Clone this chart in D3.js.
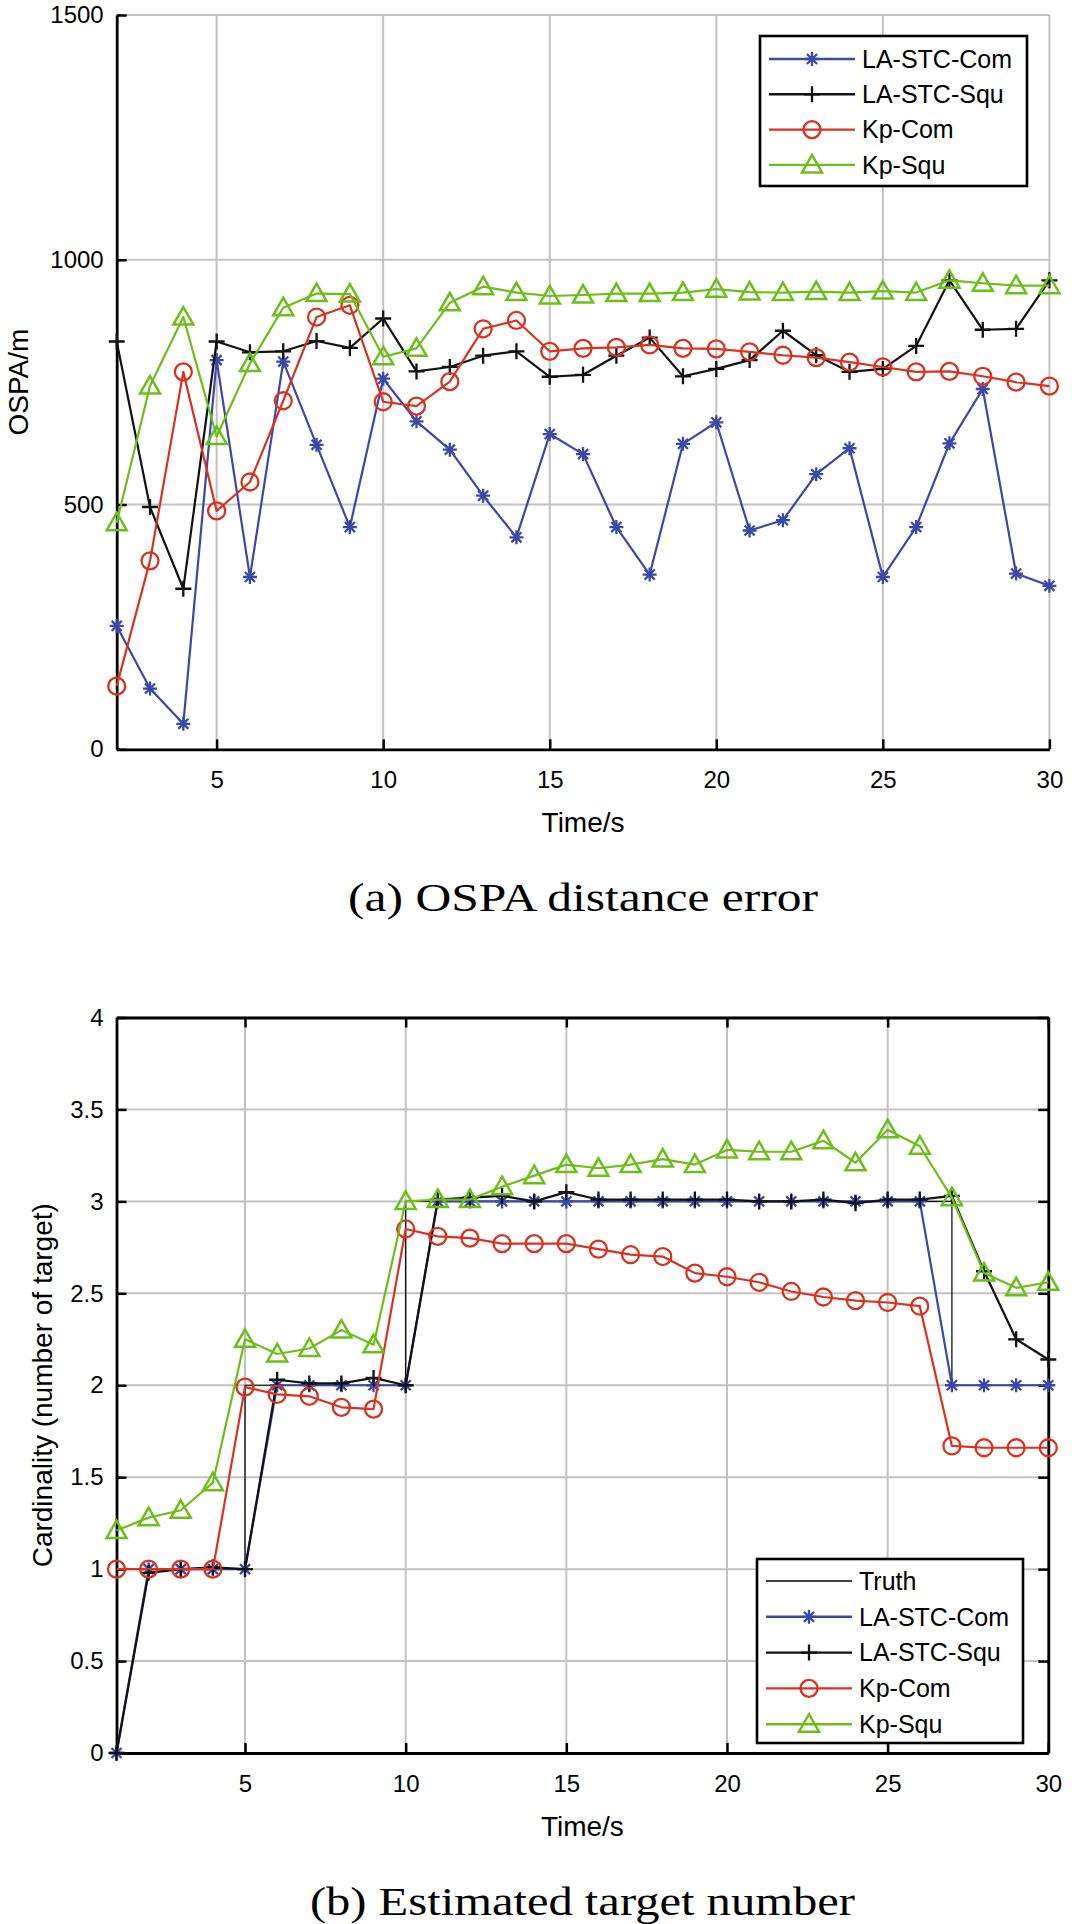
<!DOCTYPE html>
<html><head><meta charset="utf-8">
<script src="https://cdn.jsdelivr.net/npm/d3@7"></script>
<style>body{margin:0;background:#fff}svg{display:block}</style>
</head><body>
<svg id="c" width="1072" height="1924"></svg>
<script>
// ---------- Data: (a) OSPA distance error ----------
const timeA = [2,3,4,5,6,7,8,9,10,11,12,13,14,15,16,17,18,19,20,21,22,23,24,25,26,27,28,29,30];
const ospaLAComA = [252,124,52,795,352,792,622,454,757,670,612,518,433,644,603,454,357,624,668,447,468,562,615,352,454,625,736,359,334];
const ospaLASquA = [833,495,328,833,811,813,834,820,880,772,781,804,813,761,765,804,841,762,777,795,855,805,771,777,824,958,857,859,958];
const ospaKpComA = [129,385,771,487,546,712,883,907,710,701,751,859,876,813,819,821,826,819,818,812,805,800,791,781,771,772,762,750,742];
const ospaKpSquA = [463,742,883,639,788,902,931,930,802,819,912,945,933,926,928,931,931,933,940,934,933,935,933,936,933,958,952,947,947];
const ticksXA = [5,10,15,20,25,30];
const ticksYA = [0,500,1000,1500];

// ---------- Data: (b) Estimated target number ----------
const timeB = [1,2,3,4,5,6,7,8,9,10,11,12,13,14,15,16,17,18,19,20,21,22,23,24,25,26,27,28,29,30];
const truthB   = [1,1,1,1,2,2,2,2,2,3,3,3,3,3,3,3,3,3,3,3,3,3,3,3,3,3,2,2,2,2];
const cardLAComB = [0,1,1,1,1,2,2,2,2,2,3,3,3,3,3,3,3,3,3,3,3,3,3,3,3,3,2,2,2,2];
const cardLASquB = [0,0.98,1.0,1.01,1.0,2.03,2.01,2.01,2.04,2.0,3.01,3.02,3.03,3.0,3.05,3.01,3.01,3.01,3.01,3.01,3.0,3.0,3.01,2.99,3.01,3.01,3.03,2.62,2.25,2.14];
const cardKpComB = [1.0,1.0,1.0,1.0,1.99,1.95,1.94,1.88,1.87,2.85,2.81,2.80,2.77,2.77,2.77,2.74,2.71,2.70,2.61,2.59,2.56,2.51,2.48,2.46,2.45,2.43,1.67,1.66,1.66,1.66];
const cardKpSquB = [1.21,1.28,1.32,1.47,2.25,2.17,2.2,2.3,2.22,3.0,3.01,3.01,3.08,3.14,3.2,3.18,3.2,3.23,3.2,3.28,3.27,3.27,3.33,3.21,3.39,3.3,3.02,2.61,2.53,2.56];
const ticksXB = [5,10,15,20,25,30];
const ticksYB = [0,0.5,1,1.5,2,2.5,3,3.5,4];

const seriesNames = ["LA-STC-Com","LA-STC-Squ","Kp-Com","Kp-Squ"];
const seriesColors = ["#3c48a8","#111111","#d9321f","#6cbf19"];
const seriesMarkers = ["star","plus","circle","tri"];

// ---------- Drawing ----------
const svg = d3.select("#c");
const FONT = "'Liberation Sans', Arial, Helvetica, sans-serif";
const GRID = "#c2c2c2";

function markerPath(kind){
  if(kind==="star"){ const r=7, d=r*0.72;
    return `M${-r},0L${r},0M0,${-r}L0,${r}M${-d},${-d}L${d},${d}M${-d},${d}L${d},${-d}`; }
  if(kind==="plus"){ const r=8; return `M${-r},0L${r},0M0,${-r}L0,${r}`; }
  if(kind==="tri"){ return "M0,-10L10,7.5L-10,7.5Z"; }
  return null;
}
function drawMarker(g, kind, color, x, y){
  if(kind==="circle"){
    g.append("circle").attr("cx",x).attr("cy",y).attr("r",8.5)
      .attr("fill","none").attr("stroke",color).attr("stroke-width",2.3);
  } else {
    g.append("path").attr("d",markerPath(kind)).attr("transform",`translate(${x},${y})`)
      .attr("fill","none").attr("stroke",color).attr("stroke-width",kind==="tri"?2.5:2.3)
      .attr("stroke-linejoin","miter");
  }
}

function panel(cfg){
  const g = svg.append("g");
  const x = d3.scaleLinear().domain(cfg.xDomain).range([cfg.left,cfg.right]);
  const y = d3.scaleLinear().domain(cfg.yDomain).range([cfg.bottom,cfg.top]);

  // grid
  g.append("g").selectAll("line").data(cfg.ticksX).join("line")
    .attr("x1",d=>x(d)).attr("x2",d=>x(d)).attr("y1",cfg.top).attr("y2",cfg.bottom)
    .attr("stroke",GRID).attr("stroke-width",2);
  g.append("g").selectAll("line").data(cfg.ticksY.filter(d=>d!==cfg.yDomain[0])).join("line")
    .attr("x1",cfg.left).attr("x2",cfg.right).attr("y1",d=>y(d)).attr("y2",d=>y(d))
    .attr("stroke",GRID).attr("stroke-width",2);

  // axes via d3 (inward ticks)
  const ax = g.append("g").attr("transform",`translate(0,${cfg.bottom})`)
    .call(d3.axisBottom(x).tickValues(cfg.ticksX).tickSize(-10).tickPadding(22).tickSizeOuter(0).tickFormat(d3.format("")));
  const ay = g.append("g").attr("transform",`translate(${cfg.left},0)`)
    .call(d3.axisLeft(y).tickValues(cfg.ticksY).tickSize(-10).tickPadding(13).tickSizeOuter(0).tickFormat(d=>String(d)));
  [ax,ay].forEach(a=>{
    a.select(".domain").attr("stroke","#000").attr("stroke-width",2.8);
    a.selectAll(".tick line").attr("stroke","#000").attr("stroke-width",2.5);
    a.selectAll(".tick text").attr("fill","#000").attr("font-family",FONT).attr("font-size",24);
  });
  ax.selectAll(".tick text").attr("dy","0.71em");
  if(cfg.box){
    const at = g.append("g").attr("transform",`translate(0,${cfg.top})`)
      .call(d3.axisTop(x).tickValues(cfg.ticksX).tickSize(-10).tickSizeOuter(0).tickFormat(""));
    const ar = g.append("g").attr("transform",`translate(${cfg.right},0)`)
      .call(d3.axisRight(y).tickValues(cfg.ticksY).tickSize(-10).tickSizeOuter(0).tickFormat(""));
    [at,ar].forEach(a=>{
      a.select(".domain").attr("stroke","#000").attr("stroke-width",2.8);
      a.selectAll(".tick line").attr("stroke","#000").attr("stroke-width",2.5);
    });
  }

  // lines
  if(cfg.truth){
    g.append("path").datum(cfg.time.map((t,i)=>[t,cfg.truth[i]]))
      .attr("d",d3.line().x(d=>x(d[0])).y(d=>y(d[1])).curve(d3.curveStepAfter))
      .attr("fill","none").attr("stroke","#000").attr("stroke-width",1.2);
  }
  cfg.series.forEach((vals,k)=>{
    const pts = cfg.time.map((t,i)=>[t,vals[i]]);
    g.append("path").datum(pts)
      .attr("d",d3.line().x(d=>x(d[0])).y(d=>y(d[1])))
      .attr("fill","none").attr("stroke",seriesColors[k]).attr("stroke-width",2.2)
      .attr("stroke-linejoin","round");
    const mg = g.append("g");
    pts.forEach(p=>drawMarker(mg, seriesMarkers[k], seriesColors[k], x(p[0]), y(p[1])));
  });

  // labels
  g.append("text").attr("x",(cfg.left+cfg.right)/2).attr("y",cfg.bottom+83)
    .attr("text-anchor","middle").attr("font-family",FONT).attr("font-size",28).text("Time/s");
  g.append("text").attr("transform",`translate(${cfg.ylabX},${(cfg.top+cfg.bottom)/2}) rotate(-90)`)
    .attr("text-anchor","middle").attr("font-family",FONT).attr("font-size",28).text(cfg.ylabel);
  g.append("text").attr("x",(cfg.left+cfg.right)/2).attr("y",cfg.bottom+162)
    .attr("text-anchor","middle").attr("font-family","'Liberation Serif','Times New Roman',serif")
    .attr("font-size",41).attr("textLength",cfg.capLen).attr("lengthAdjust","spacingAndGlyphs")
    .text(cfg.caption);

  // legend
  const L = cfg.legend;
  const lg = g.append("g");
  lg.append("rect").attr("x",L.x0).attr("y",L.y0).attr("width",L.x1-L.x0).attr("height",L.y1-L.y0)
    .attr("fill","#fff").attr("stroke","#000").attr("stroke-width",2.6);
  L.items.forEach((it,i)=>{
    const yy = L.rowY0 + i*L.rowH;
    lg.append("line").attr("x1",L.lx0).attr("x2",L.lx1).attr("y1",yy).attr("y2",yy)
      .attr("stroke",it.color).attr("stroke-width",it.marker?2.4:1.4);
    if(it.marker) drawMarker(lg, it.marker, it.color, (L.lx0+L.lx1)/2, yy);
    lg.append("text").attr("x",L.tx).attr("y",yy).attr("dy","0.35em")
      .attr("font-family",FONT).attr("font-size",25).text(it.name);
  });
}

const itemsA = seriesNames.map((n,i)=>({name:n,color:seriesColors[i],marker:seriesMarkers[i]}));
panel({
  xDomain:[2,30], yDomain:[0,1500], left:116.7, right:1049.4, top:15, bottom:749.3,
  ticksX:ticksXA, ticksY:ticksYA, time:timeA,
  series:[ospaLAComA, ospaLASquA, ospaKpComA, ospaKpSquA],
  ylabel:"OSPA/m", ylabX:28, caption:"(a) OSPA distance error", capLen:470, box:false,
  legend:{x0:760,x1:1027,y0:36,y1:186,rowY0:59,rowH:35.3,lx0:769,lx1:855,tx:862,items:itemsA}
});
const itemsB = [{name:"Truth",color:"#000",marker:null}].concat(itemsA);
panel({
  xDomain:[1,30], yDomain:[0,4], left:116.5, right:1048.3, top:1017.5, bottom:1753,
  ticksX:ticksXB, ticksY:ticksYB, time:timeB, truth:truthB,
  series:[cardLAComB, cardLASquB, cardKpComB, cardKpSquB],
  ylabel:"Cardinality (number of target)", ylabX:52, caption:"(b) Estimated target number", capLen:545, box:true,
  legend:{x0:757,x1:1023,y0:1559,y1:1743,rowY0:1581,rowH:35.8,lx0:766,lx1:852,tx:859,items:itemsB}
});
</script>
</body></html>
